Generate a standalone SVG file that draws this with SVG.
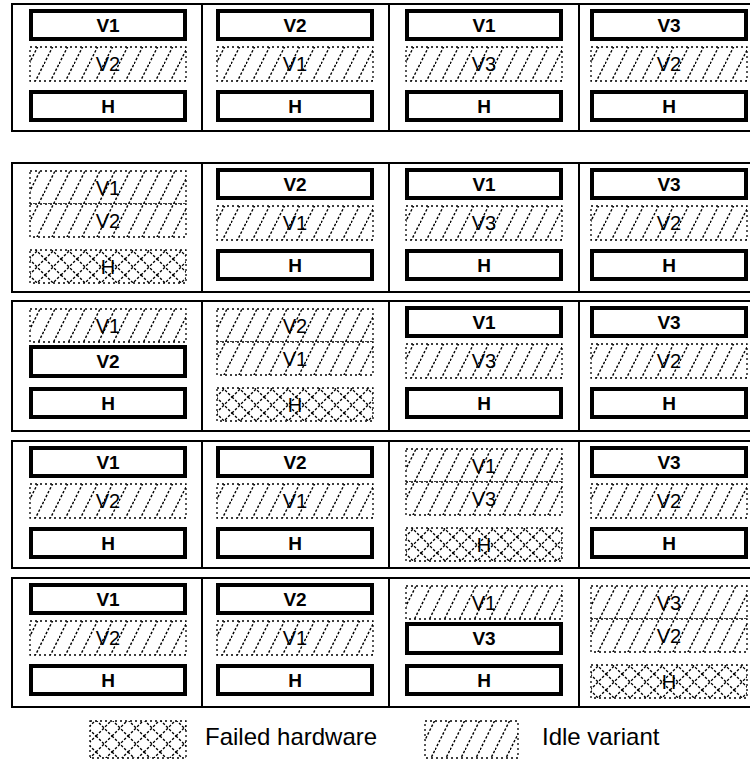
<svg xmlns="http://www.w3.org/2000/svg" width="750" height="762" viewBox="0 0 750 762">
<style>
.frame{fill:none;stroke:#000;stroke-width:2}
.box{fill:#fff;stroke:#000;stroke-width:4}
.idle{fill:url(#idlePat);stroke:#000;stroke-width:1.3;stroke-dasharray:2 3}
.fail{fill:url(#failPat);stroke:#000;stroke-width:1.3;stroke-dasharray:2 3}
.bt{font-family:"Liberation Sans",Arial,sans-serif;font-size:19px;font-weight:bold;text-anchor:middle;fill:#000}
.ht{font-family:"Liberation Sans",Arial,sans-serif;font-size:20px;text-anchor:middle;fill:#000}
.lg{font-family:"Liberation Sans",Arial,sans-serif;font-size:24px;fill:#000}
</style>
<defs>
<pattern id="idlePat" patternUnits="userSpaceOnUse" width="15" height="30">
<rect width="15" height="30" fill="#fff"/>
<path d="M0,30 L15,0" stroke="#000" stroke-width="1.4" stroke-dasharray="2.5 1.8" fill="none"/>
</pattern>
<pattern id="failPat" patternUnits="userSpaceOnUse" width="16" height="16">
<rect width="16" height="16" fill="#fff"/>
<path d="M0,16 L16,0 M0,0 L16,16" stroke="#000" stroke-width="1.4" stroke-dasharray="2.5 1.8" fill="none"/>
</pattern>
</defs>
<rect width="750" height="762" fill="#fff"/>
<g id="table">
<rect class="frame" x="12" y="4" width="756" height="127"/>
<rect class="frame" x="12" y="163" width="756" height="129"/>
<rect class="frame" x="12" y="301" width="756" height="130"/>
<rect class="frame" x="12" y="441" width="756" height="127"/>
<rect class="frame" x="12" y="578" width="756" height="129"/>
<path class="frame" d="M202,4V131M389,4V131M579,4V131M202,163V292M389,163V292M579,163V292M202,301V431M389,301V431M579,301V431M202,441V568M389,441V568M579,441V568M202,578V707M389,578V707M579,578V707"/>
</g>
<!-- Row 1 -->
<g id="r1c1" transform="translate(29,4)">
<rect class="box" x="2" y="7" width="154" height="28"/><text class="bt" x="79" y="27.8">V1</text>
<rect class="idle" x="1" y="43" width="156" height="34"/><text class="ht" x="79" y="67.2">V2</text>
<rect class="box" x="2" y="88" width="154" height="28"/><text class="bt" x="79" y="108.8">H</text>
</g>
<g id="r1c2" transform="translate(216,4)">
<rect class="box" x="2" y="7" width="154" height="28"/><text class="bt" x="79" y="27.8">V2</text>
<rect class="idle" x="1" y="43" width="156" height="34"/><text class="ht" x="79" y="67.2">V1</text>
<rect class="box" x="2" y="88" width="154" height="28"/><text class="bt" x="79" y="108.8">H</text>
</g>
<g id="r1c3" transform="translate(405,4)">
<rect class="box" x="2" y="7" width="154" height="28"/><text class="bt" x="79" y="27.8">V1</text>
<rect class="idle" x="1" y="43" width="156" height="34"/><text class="ht" x="79" y="67.2">V3</text>
<rect class="box" x="2" y="88" width="154" height="28"/><text class="bt" x="79" y="108.8">H</text>
</g>
<g id="r1c4" transform="translate(590,4)">
<rect class="box" x="2" y="7" width="154" height="28"/><text class="bt" x="79" y="27.8">V3</text>
<rect class="idle" x="1" y="43" width="156" height="34"/><text class="ht" x="79" y="67.2">V2</text>
<rect class="box" x="2" y="88" width="154" height="28"/><text class="bt" x="79" y="108.8">H</text>
</g>
<!-- Row 2 -->
<g id="r2c1" transform="translate(29,163)">
<rect class="idle" x="1" y="8" width="156" height="33"/><text class="ht" x="79" y="31.7">V1</text>
<rect class="idle" x="1" y="41" width="156" height="33"/><text class="ht" x="79" y="64.7">V2</text>
<rect class="fail" x="1" y="87" width="156" height="33"/><text class="ht" x="79" y="110.7">H</text>
</g>
<g id="r2c2" transform="translate(216,163)">
<rect class="box" x="2" y="7" width="154" height="28"/><text class="bt" x="79" y="27.8">V2</text>
<rect class="idle" x="1" y="43" width="156" height="34"/><text class="ht" x="79" y="67.2">V1</text>
<rect class="box" x="2" y="88" width="154" height="28"/><text class="bt" x="79" y="108.8">H</text>
</g>
<g id="r2c3" transform="translate(405,163)">
<rect class="box" x="2" y="7" width="154" height="28"/><text class="bt" x="79" y="27.8">V1</text>
<rect class="idle" x="1" y="43" width="156" height="34"/><text class="ht" x="79" y="67.2">V3</text>
<rect class="box" x="2" y="88" width="154" height="28"/><text class="bt" x="79" y="108.8">H</text>
</g>
<g id="r2c4" transform="translate(590,163)">
<rect class="box" x="2" y="7" width="154" height="28"/><text class="bt" x="79" y="27.8">V3</text>
<rect class="idle" x="1" y="43" width="156" height="34"/><text class="ht" x="79" y="67.2">V2</text>
<rect class="box" x="2" y="88" width="154" height="28"/><text class="bt" x="79" y="108.8">H</text>
</g>
<!-- Row 3 -->
<g id="r3c1" transform="translate(29,301)">
<rect class="idle" x="1" y="8" width="156" height="33"/><text class="ht" x="79" y="31.7">V1</text>
<rect class="box" x="2" y="46" width="154" height="29"/><text class="bt" x="79" y="67.3">V2</text>
<rect class="box" x="2" y="88" width="154" height="28"/><text class="bt" x="79" y="108.8">H</text>
</g>
<g id="r3c2" transform="translate(216,301)">
<rect class="idle" x="1" y="8" width="156" height="33"/><text class="ht" x="79" y="31.7">V2</text>
<rect class="idle" x="1" y="41" width="156" height="33"/><text class="ht" x="79" y="64.7">V1</text>
<rect class="fail" x="1" y="87" width="156" height="33"/><text class="ht" x="79" y="110.7">H</text>
</g>
<g id="r3c3" transform="translate(405,301)">
<rect class="box" x="2" y="7" width="154" height="28"/><text class="bt" x="79" y="27.8">V1</text>
<rect class="idle" x="1" y="43" width="156" height="34"/><text class="ht" x="79" y="67.2">V3</text>
<rect class="box" x="2" y="88" width="154" height="28"/><text class="bt" x="79" y="108.8">H</text>
</g>
<g id="r3c4" transform="translate(590,301)">
<rect class="box" x="2" y="7" width="154" height="28"/><text class="bt" x="79" y="27.8">V3</text>
<rect class="idle" x="1" y="43" width="156" height="34"/><text class="ht" x="79" y="67.2">V2</text>
<rect class="box" x="2" y="88" width="154" height="28"/><text class="bt" x="79" y="108.8">H</text>
</g>
<!-- Row 4 -->
<g id="r4c1" transform="translate(29,441)">
<rect class="box" x="2" y="7" width="154" height="28"/><text class="bt" x="79" y="27.8">V1</text>
<rect class="idle" x="1" y="43" width="156" height="34"/><text class="ht" x="79" y="67.2">V2</text>
<rect class="box" x="2" y="88" width="154" height="28"/><text class="bt" x="79" y="108.8">H</text>
</g>
<g id="r4c2" transform="translate(216,441)">
<rect class="box" x="2" y="7" width="154" height="28"/><text class="bt" x="79" y="27.8">V2</text>
<rect class="idle" x="1" y="43" width="156" height="34"/><text class="ht" x="79" y="67.2">V1</text>
<rect class="box" x="2" y="88" width="154" height="28"/><text class="bt" x="79" y="108.8">H</text>
</g>
<g id="r4c3" transform="translate(405,441)">
<rect class="idle" x="1" y="8" width="156" height="33"/><text class="ht" x="79" y="31.7">V1</text>
<rect class="idle" x="1" y="41" width="156" height="33"/><text class="ht" x="79" y="64.7">V3</text>
<rect class="fail" x="1" y="87" width="156" height="33"/><text class="ht" x="79" y="110.7">H</text>
</g>
<g id="r4c4" transform="translate(590,441)">
<rect class="box" x="2" y="7" width="154" height="28"/><text class="bt" x="79" y="27.8">V3</text>
<rect class="idle" x="1" y="43" width="156" height="34"/><text class="ht" x="79" y="67.2">V2</text>
<rect class="box" x="2" y="88" width="154" height="28"/><text class="bt" x="79" y="108.8">H</text>
</g>
<!-- Row 5 -->
<g id="r5c1" transform="translate(29,578)">
<rect class="box" x="2" y="7" width="154" height="28"/><text class="bt" x="79" y="27.8">V1</text>
<rect class="idle" x="1" y="43" width="156" height="34"/><text class="ht" x="79" y="67.2">V2</text>
<rect class="box" x="2" y="88" width="154" height="28"/><text class="bt" x="79" y="108.8">H</text>
</g>
<g id="r5c2" transform="translate(216,578)">
<rect class="box" x="2" y="7" width="154" height="28"/><text class="bt" x="79" y="27.8">V2</text>
<rect class="idle" x="1" y="43" width="156" height="34"/><text class="ht" x="79" y="67.2">V1</text>
<rect class="box" x="2" y="88" width="154" height="28"/><text class="bt" x="79" y="108.8">H</text>
</g>
<g id="r5c3" transform="translate(405,578)">
<rect class="idle" x="1" y="8" width="156" height="33"/><text class="ht" x="79" y="31.7">V1</text>
<rect class="box" x="2" y="46" width="154" height="29"/><text class="bt" x="79" y="67.3">V3</text>
<rect class="box" x="2" y="88" width="154" height="28"/><text class="bt" x="79" y="108.8">H</text>
</g>
<g id="r5c4" transform="translate(590,578)">
<rect class="idle" x="1" y="8" width="156" height="33"/><text class="ht" x="79" y="31.7">V3</text>
<rect class="idle" x="1" y="41" width="156" height="33"/><text class="ht" x="79" y="64.7">V2</text>
<rect class="fail" x="1" y="87" width="156" height="33"/><text class="ht" x="79" y="110.7">H</text>
</g>
<!-- Legend -->
<g id="legend-failed">
<rect class="fail" x="90" y="721" width="96" height="37"/>
<text class="lg" x="205" y="745">Failed hardware</text>
</g>
<g id="legend-idle">
<rect class="idle" x="425" y="721" width="93" height="37"/>
<text class="lg" x="542" y="745">Idle variant</text>
</g>
</svg>
